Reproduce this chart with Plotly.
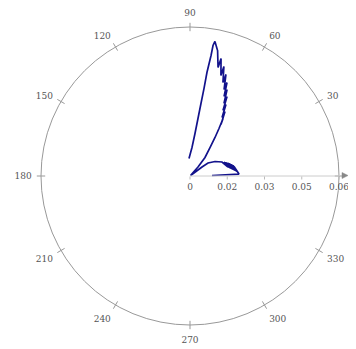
import plotly.graph_objects as go

# traced curve (radius, angle in degrees)
r_vals = [0.00886, 0.01975,
          0.01813, 0.01938, 0.01782, 0.01901, 0.01748, 0.01863, 0.01715, 0.01826,
          0.01682, 0.01788, 0.01649, 0.01751, 0.01617, 0.01715, 0.01579, 0.01678,
          0.01548, 0.01643, 0.01511, 0.01607, 0.01481, 0.01573, 0.01407,
          0.01164, 0.00894, 0.00605, 0.0030, 0.0003,
          0.00242, 0.00485, 0.0096, 0.0140, 0.01849, 0.02241,
          0.0267, 0.0242, 0.02955, 0.02685, 0.03224, 0.02953, 0.03531, 0.03225,
          0.03789, 0.03482, 0.0405, 0.03743, 0.04337, 0.03993, 0.04617, 0.04235,
          0.04894, 0.04513, 0.05174, 0.0551,
          0.05337, 0.04926, 0.04224, 0.0357, 0.02953, 0.02338, 0.01723, 0.0115, 0.00706]
theta_vals = [1.3, 2.3,
              12.2, 4.2, 13.7, 5.5, 14.7, 6.2, 15.7, 7.0,
              16.7, 7.8, 17.8, 8.6, 18.9, 9.5, 19.4, 10.4,
              20.6, 11.3, 21.1, 12.3, 22.4, 13.3, 23.6,
              30.1, 35.8, 36.9, 36.9, 45.0,
              48.4, 48.4, 51.0, 54.9, 57.0, 58.6,
              60.1, 59.0, 61.5, 61.3, 63.3, 63.3, 65.0, 64.9,
              66.8, 66.8, 68.4, 68.5, 70.5, 70.6, 72.8, 72.9,
              75.2, 75.5, 77.6, 79.5,
              80.0, 80.1, 80.7, 80.9, 81.4, 82.1, 83.3, 86.0, 93.3]

radial_ticks = [0, 0.015, 0.03, 0.045, 0.06]
radial_labels = ["0", "0.02", "0.03", "0.05", "0.06"]
angular_ticks = [0, 30, 60, 90, 120, 150, 180, 210, 240, 270, 300, 330]
r_max = 0.06

W, H = 356, 349
BODY = 8  # default page margin of the html body
L, R, T, B = 41 - BODY, 17 + BODY, 27 - BODY, 24 + BODY
pw, ph = W - L - R, H - T - B

def px(x):
    return (x - BODY - L) / pw

def py(y):
    return (H - B - (y - BODY)) / ph

font = dict(family="'DejaVu Serif', 'Liberation Serif', 'Noto Serif', serif",
            size=9, color="#555555")

fig = go.Figure()
fig.add_trace(go.Scatterpolar(
    r=r_vals, theta=theta_vals, mode="lines",
    line=dict(color="#12128c", width=1.7),
    showlegend=False, hoverinfo="skip"))

# short tick marks crossing the outer circle
fig.add_trace(go.Scatterpolar(
    r=[r_max] * len(angular_ticks), theta=angular_ticks, mode="markers",
    marker=dict(symbol="line-ns", size=6, angle=[90 - a for a in angular_ticks],
                angleref="up", line=dict(color="#999999", width=1)),
    cliponaxis=False, showlegend=False, hoverinfo="skip"))

fig.update_layout(
    width=W, height=H,
    margin=dict(l=L, r=R, t=T, b=B),
    paper_bgcolor="white",
    font=font,
    polar=dict(
        bgcolor="white",
        domain=dict(x=[0, 1], y=[0, 1]),
        radialaxis=dict(
            range=[0, r_max], angle=0, tickangle=0,
            tickvals=radial_ticks, ticktext=radial_labels,
            showgrid=False, showline=True, linecolor="#cccccc", linewidth=1,
            ticks="outside", ticklen=3, tickcolor="#bbbbbb",
            tickfont=font),
        angularaxis=dict(
            rotation=0, direction="counterclockwise",
            tickvals=angular_ticks, ticktext=[str(a) for a in angular_ticks],
            showgrid=False, showline=True, linecolor="#999999", linewidth=1,
            ticks="outside", ticklen=7, tickcolor="rgba(0,0,0,0)",
            tickfont=font),
    ),
    shapes=[
        dict(type="line", xref="paper", yref="paper",
             x0=px(339), x1=px(344), y0=py(175.5), y1=py(175.5),
             line=dict(color="#cccccc", width=1)),
        dict(type="path", xref="paper", yref="paper",
             path=f"M {px(342)} {py(172.5)} L {px(348)} {py(175.5)} L {px(342)} {py(178.5)} Z",
             fillcolor="#888888", line=dict(color="#888888", width=0.5)),
    ],
    annotations=[
        dict(text="(", xref="paper", yref="paper", x=px(351.5), y=py(176),
             xanchor="left", yanchor="middle", showarrow=False, borderpad=0,
             font=dict(family=font["family"], size=8, color="#555555")),
    ],
)

fig.write_html("out.html")
